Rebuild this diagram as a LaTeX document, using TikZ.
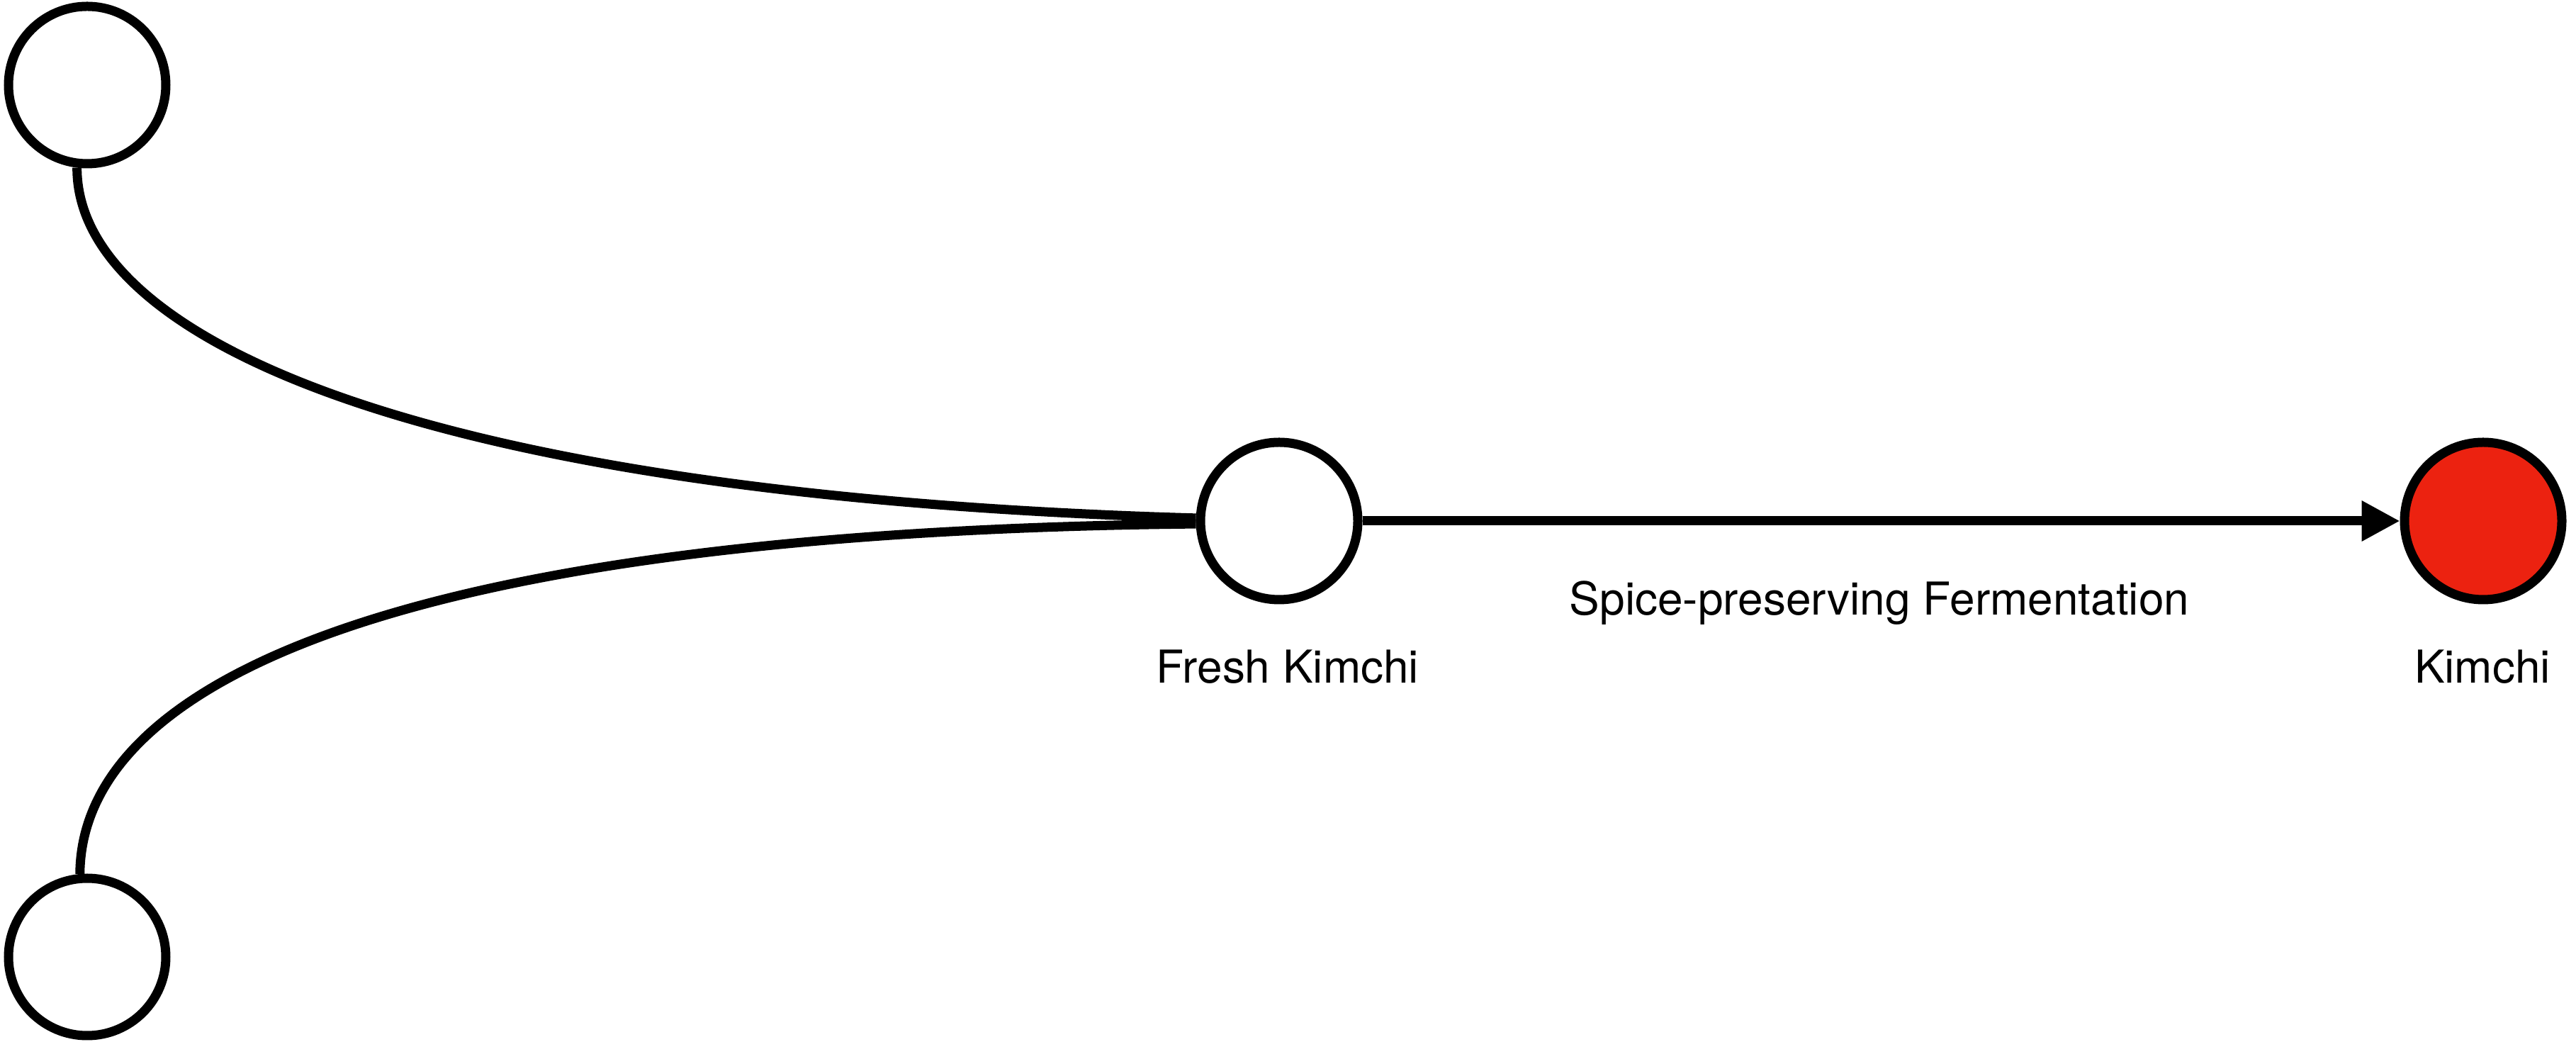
\documentclass[tikz,border=0pt]{standalone}
\usepackage{fontspec}
\setmainfont{TeX Gyre Heros}
\usetikzlibrary{arrows.meta}
\definecolor{kred}{RGB}{236,34,16}
\tikzset{
  state/.style={circle,draw=black,line width=0.13cm,minimum size=2.22cm,inner sep=0pt,fill=white},
  conn/.style={draw=black,line width=0.13cm},
  lbl/.style={font=\fontsize{18.2pt}{22pt}\selectfont,inner sep=0pt}
}
\begin{document}
\begin{tikzpicture}
\useasboundingbox (0,0) rectangle (36.35,14.70);
\node[state] (top) at (1.23,13.50) {};
\node[state] (bot) at (1.23,1.20) {};
\node[state] (fresh) at (18.05,7.35) {};
\node[state,fill=kred] (kimchi) at (35.04,7.35) {};
\node[lbl] (freshl) at (18.17,5.29) {Fresh Kimchi};
\node[lbl] (kimchil) at (35.03,5.29) {Kimchi};
\node[lbl] (spice) at (26.52,6.19) {Spice-preserving Fermentation};
\draw[conn] (top.-97) .. controls (1.08,9.90) and (6.00,7.70) .. (fresh.178);
\draw[conn] (bot.95) .. controls (1.15,5.20) and (6.00,7.20) .. (fresh.182);
\draw[conn,-{Triangle[length=0.54cm,width=0.54cm]}] (fresh.east) -- (kimchi.west);
\end{tikzpicture}
\end{document}
